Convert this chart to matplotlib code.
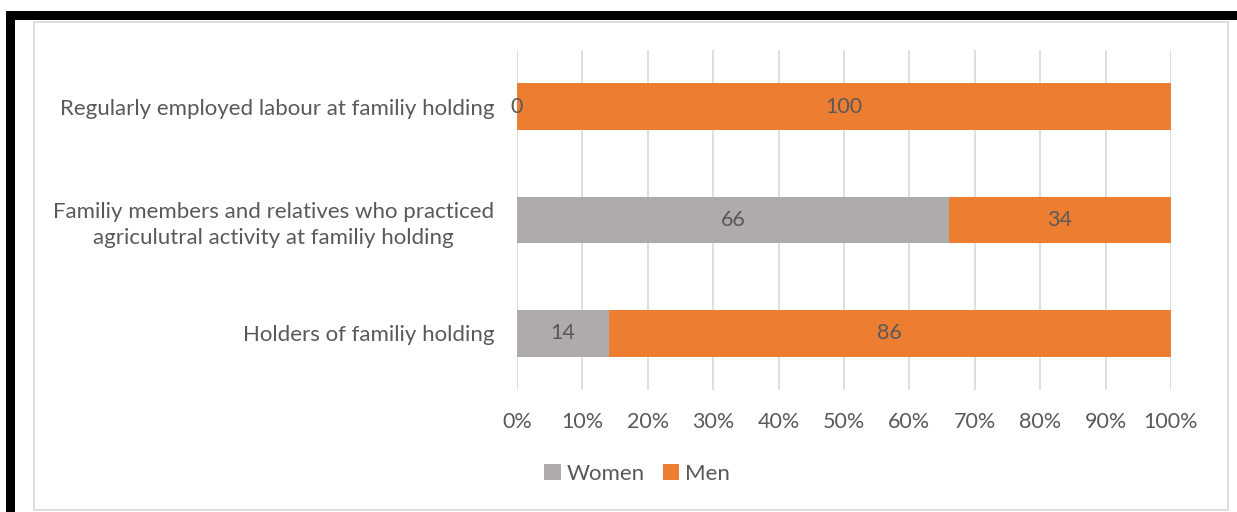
import matplotlib
matplotlib.use('Agg')
import matplotlib.pyplot as plt
from matplotlib.patches import Rectangle

# Share of women and men by holding category (percent)
categories = ['Holders of familiy holding',
              'Familiy members and relatives who practiced\nagriculutral activity at familiy holding',
              'Regularly employed labour at familiy holding']
women = [14, 66, 0]
men = [86, 34, 100]
ticks = [0, 10, 20, 30, 40, 50, 60, 70, 80, 90, 100]

W, H = 1237, 512
text_col = '#595959'
grey = '#AFABAB'
orange = '#ED7D31'

plt.rcParams['font.family'] = ['Lato', 'DejaVu Sans']

fig = plt.figure(figsize=(W / 100, H / 100), dpi=100)

# frame around the figure: thick black top/left edge and light chart border
fig.patches.append(Rectangle((6 / W, 1 - 20 / H), 1 - 6 / W, 9 / H,
                             transform=fig.transFigure, color='black', lw=0))
fig.patches.append(Rectangle((6 / W, 0), 9 / W, 1 - 11 / H,
                             transform=fig.transFigure, color='black', lw=0))
fig.patches.append(Rectangle((34 / W, 1 - 510 / H), (1228 - 34) / W, (510 - 22) / H,
                             transform=fig.transFigure, fill=False,
                             edgecolor='#D9D9D9', lw=1.2))

ax = fig.add_axes([517 / W, 1 - 390 / H, (1171 - 517) / W, (390 - 50) / H])

y = range(len(categories))
h = 0.41
ax.barh(y, women, height=h, color=grey, label='Women', zorder=3)
ax.barh(y, men, left=women, height=h, color=orange, label='Men', zorder=3)

for i in y:
    ax.text(women[i] / 2, i, str(women[i]), ha='center', va='center',
            fontsize=15.5, color=text_col, zorder=4)
    ax.text(women[i] + men[i] / 2, i, str(men[i]), ha='center', va='center',
            fontsize=15.5, color=text_col, zorder=4)

ax.set_xlim(0, 100)
ax.set_ylim(-0.5, 2.5)
ax.set_xticks(ticks)
ax.set_xticklabels([f'{t}%' for t in ticks], fontsize=15.5)
ax.set_yticks(list(y))
ax.set_yticklabels(categories, ha='right', multialignment='center',
                   fontsize=16, linespacing=1.35)
ax.tick_params(axis='both', length=0, labelcolor=text_col)
ax.tick_params(axis='x', pad=16)
ax.tick_params(axis='y', pad=16.5)
ax.grid(axis='x', color='#D9D9D9', lw=1.2, zorder=0)
for s in ax.spines.values():
    s.set_visible(False)

fig.legend(loc='center', bbox_to_anchor=(637 / W, 1 - 474 / H), ncol=2,
           frameon=False, fontsize=16, labelcolor=text_col,
           handlelength=0.75, handleheight=0.75, handletextpad=0.25,
           columnspacing=0.8)

fig.savefig('out.png', dpi=100)
